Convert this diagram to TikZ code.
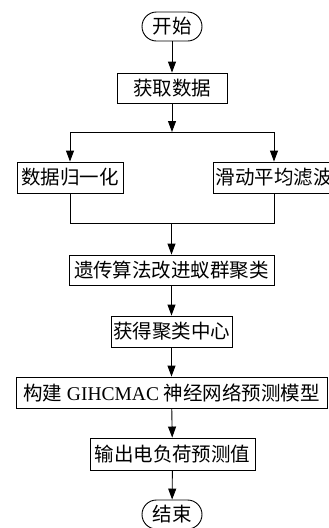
\documentclass[tikz,border=0pt]{standalone}
\usepackage{fontspec}
\setmainfont{Liberation Serif}
\newfontfamily\cjk{Noto Sans CJK SC}
\usetikzlibrary{arrows.meta}
\begin{document}
\begin{tikzpicture}[x=1pt,y=-1pt,
  box/.style={draw, line width=0.9pt, inner sep=0pt, align=center,
    font=\fontsize{19.5}{20}\selectfont},
  term/.style={box, rounded corners=14.5pt, minimum width=60pt, minimum height=29pt},
  arr/.style={line width=0.9pt, -{Triangle[length=11pt,width=8pt]}},
  ln/.style={line width=0.9pt}]
\clip (0,0) rectangle (329,528);
\node[term] (start) at (172,26.5) {\cjk 开始};
\node[box, minimum width=110pt, minimum height=30pt] (get) at (172,88) {\cjk 获取数据};
\node[box, minimum width=106pt, minimum height=31pt] (norm) at (70,177.5) {\cjk 数据归一化};
\node[box, minimum width=122pt, minimum height=31pt] (smooth) at (274,177.5) {\cjk 滑动平均滤波};
\node[box, minimum width=205pt, minimum height=30pt] (ga) at (171.5,270) {\cjk 遗传算法改进蚁群聚类};
\node[box, minimum width=121pt, minimum height=31pt] (cent) at (171.5,331.5) {\cjk 获得聚类中心};
\node[box, minimum width=311pt, minimum height=31pt] (build) at (171.5,392.5) {{\cjk 构建} GIHCMAC {\cjk 神经网络预测模型}};
\node[box, minimum width=165pt, minimum height=32pt] (outp) at (172.5,454) {\cjk 输出电负荷预测值};
\node[term] (fin) at (172,514.5) {\cjk 结束};
\coordinate (split) at (172,132);
\coordinate (sl) at (70,132);
\coordinate (sr) at (274,132);
\coordinate (ml) at (70,223);
\coordinate (mr) at (274,223);
\coordinate (merge) at (171.5,223);
\draw[arr] (start) -- (get);
\draw[arr] (get) -- (split);
\draw[ln] (sl) -- (sr);
\draw[arr] (sl) -- (norm);
\draw[arr] (sr) -- (smooth);
\draw[ln] (norm) -- (ml) -- (mr) -- (smooth);
\draw[arr] (merge) -- (ga);
\draw[arr] (ga) -- (cent);
\draw[arr] (cent) -- (build);
\draw[arr] (build) -- (outp);
\draw[arr] (outp) -- (fin);
\end{tikzpicture}
\end{document}
